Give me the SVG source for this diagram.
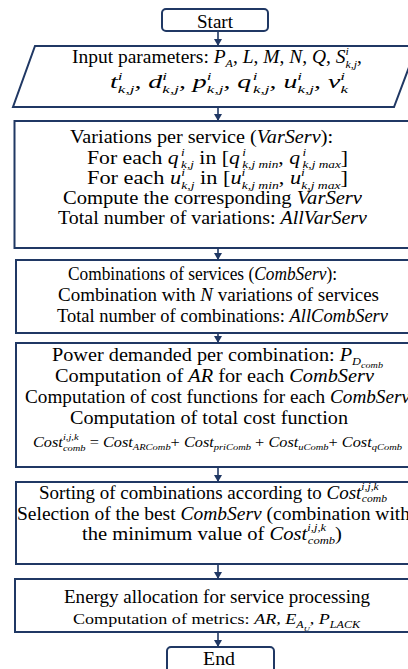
<svg xmlns="http://www.w3.org/2000/svg" width="408" height="669" viewBox="0 0 408 669">
  <defs>
    <marker id="arrow" markerUnits="userSpaceOnUse" markerWidth="8" markerHeight="8" refX="7" refY="4" orient="auto">
      <path d="M0,0 L7,4 L0,8 z" fill="#203864"/>
    </marker>
    <style>
      .box { fill: #ffffff; stroke: #203864; stroke-width: 2; }
      .t { font-family: 'Liberation Serif', 'Times New Roman', 'DejaVu Serif', serif; font-size: 18px; fill: #000000; }
      .m { font-style: italic; }
      .s { font-size: 11px; }
      .ss { font-size: 9px; }
      .c { font-size: 14px; }
      .k { font-size: 15px; }
      .ks { font-size: 10px; }
      .kss { font-size: 7px; }
      .link { stroke: #203864; stroke-width: 1.6; fill: none; marker-end: url(#arrow); }
    </style>
  </defs>
  <rect width="408" height="669" fill="#ffffff"/>

  <!-- connectors -->
  <g id="connectors">
    <line class="link" x1="218" y1="31" x2="218" y2="46"/>
    <line class="link" x1="218" y1="107" x2="218" y2="121"/>
    <line class="link" x1="218" y1="248" x2="218" y2="260"/>
    <line class="link" x1="218" y1="333" x2="218" y2="343"/>
    <line class="link" x1="218" y1="467" x2="218" y2="482"/>
    <line class="link" x1="218" y1="564" x2="218" y2="579"/>
    <line class="link" x1="218" y1="632" x2="218" y2="647"/>
  </g>

  <!-- start terminal -->
  <g id="start">
    <rect class="box" x="162" y="9" width="106" height="22" rx="4"/>
    <text class="t" x="197" y="28" textLength="36" lengthAdjust="spacingAndGlyphs">Start</text>
  </g>

  <!-- input parameters (data block) -->
  <g id="input">
    <polygon class="box" points="35,46 417,46 394,107 13,107"/>
    <text class="t" x="72" y="63" textLength="290" lengthAdjust="spacingAndGlyphs">Input parameters: <tspan class="m">P</tspan><tspan class="m s" dy="4">A</tspan><tspan dy="-4">, </tspan><tspan class="m">L</tspan>, <tspan class="m">M</tspan>, <tspan class="m">N</tspan>, <tspan class="m">Q</tspan>, <tspan class="m">S</tspan><tspan class="m s" dy="-8">i</tspan><tspan class="m s" dx="-3" dy="13">k,j</tspan><tspan dy="-5">,</tspan></text>
    <text class="t m" x="110" y="88" textLength="238" lengthAdjust="spacingAndGlyphs">t<tspan class="s" dy="-8">i</tspan><tspan class="s" dx="-3" dy="13">k,j</tspan><tspan dy="-5">, d</tspan><tspan class="s" dy="-8">i</tspan><tspan class="s" dx="-3" dy="13">k,j</tspan><tspan dy="-5">, p</tspan><tspan class="s" dy="-8">i</tspan><tspan class="s" dx="-3" dy="13">k,j</tspan><tspan dy="-5">, q</tspan><tspan class="s" dx="1" dy="-8">i</tspan><tspan class="s" dx="-3" dy="13">k,j</tspan><tspan dy="-5">, u</tspan><tspan class="s" dy="-8">i</tspan><tspan class="s" dx="-3" dy="13">k,j</tspan><tspan dy="-5">, v</tspan><tspan class="s" dy="-8">i</tspan><tspan class="s" dx="-3" dy="13">k</tspan></text>
  </g>

  <!-- variations per service -->
  <g id="varserv">
    <rect class="box" x="14.5" y="121" width="410" height="127"/>
    <text class="t" x="70" y="143" textLength="263" lengthAdjust="spacingAndGlyphs">Variations per service (<tspan class="m">VarServ</tspan>):</text>
    <text class="t" x="87" y="164" textLength="261" lengthAdjust="spacingAndGlyphs">For each <tspan class="m">q</tspan><tspan class="m s" dx="2" dy="-8">i</tspan><tspan class="m s" dx="-3" dy="12">k,j</tspan><tspan dy="-4"> in [</tspan><tspan class="m">q</tspan><tspan class="m s" dx="2" dy="-8">i</tspan><tspan class="m s" dx="-3" dy="12">k,j min</tspan><tspan dy="-4">, </tspan><tspan class="m">q</tspan><tspan class="m s" dx="2" dy="-8">i</tspan><tspan class="m s" dx="-3" dy="12">k,j max</tspan><tspan dy="-4">]</tspan></text>
    <text class="t" x="87" y="184" textLength="261" lengthAdjust="spacingAndGlyphs">For each <tspan class="m">u</tspan><tspan class="m s" dy="-8">i</tspan><tspan class="m s" dx="-3" dy="13">k,j</tspan><tspan dy="-5"> in [</tspan><tspan class="m">u</tspan><tspan class="m s" dy="-8">i</tspan><tspan class="m s" dx="-3" dy="13">k,j min</tspan><tspan dy="-5">, </tspan><tspan class="m">u</tspan><tspan class="m s" dy="-8">i</tspan><tspan class="m s" dx="-3" dy="13">k,j max</tspan><tspan dy="-5">]</tspan></text>
    <text class="t" x="63" y="204" textLength="299" lengthAdjust="spacingAndGlyphs">Compute the corresponding <tspan class="m">VarServ</tspan></text>
    <text class="t" x="58" y="224" textLength="309" lengthAdjust="spacingAndGlyphs">Total number of variations: <tspan class="m">AllVarServ</tspan></text>
  </g>

  <!-- combinations of services -->
  <g id="combserv">
    <rect class="box" x="16" y="260" width="410" height="73"/>
    <text class="t" x="68" y="280" textLength="269" lengthAdjust="spacingAndGlyphs">Combinations of services (<tspan class="m">CombServ</tspan>):</text>
    <text class="t" x="58" y="301" textLength="321" lengthAdjust="spacingAndGlyphs">Combination with <tspan class="m">N</tspan> variations of services</text>
    <text class="t" x="57" y="322" textLength="331" lengthAdjust="spacingAndGlyphs">Total number of combinations: <tspan class="m">AllCombServ</tspan></text>
  </g>

  <!-- cost evaluation -->
  <g id="cost">
    <rect class="box" x="16" y="343" width="410" height="124"/>
    <text class="t" x="52" y="361" textLength="331" lengthAdjust="spacingAndGlyphs">Power demanded per combination: <tspan class="m">P</tspan><tspan class="m s" dy="4">D</tspan><tspan class="m ss" dy="3">comb</tspan></text>
    <text class="t" x="55" y="382" textLength="319" lengthAdjust="spacingAndGlyphs">Computation of <tspan class="m">AR</tspan> for each <tspan class="m">CombServ</tspan></text>
    <text class="t" x="25" y="403" textLength="385" lengthAdjust="spacingAndGlyphs">Computation of cost functions for each <tspan class="m">CombServ</tspan></text>
    <text class="t" x="70" y="424" textLength="278" lengthAdjust="spacingAndGlyphs">Computation of total cost function</text>
    <text class="t c m" x="33" y="447" textLength="369" lengthAdjust="spacingAndGlyphs">Cost<tspan class="ss" dy="-7">i,j,k</tspan><tspan class="ss" dx="-13.5" dy="11">comb</tspan><tspan dy="-4" font-style="normal"> = </tspan>Cost<tspan class="ss" dy="3">ARComb</tspan><tspan dy="-3" font-style="normal">+ </tspan>Cost<tspan class="ss" dy="3">priComb</tspan><tspan dy="-3" font-style="normal"> + </tspan>Cost<tspan class="ss" dy="3">uComb</tspan><tspan dy="-3" font-style="normal">+ </tspan>Cost<tspan class="ss" dy="3">qComb</tspan></text>
  </g>

  <!-- selection of the best combination -->
  <g id="selection">
    <rect class="box" x="16" y="482" width="410" height="82"/>
    <text class="t" x="39" y="499" textLength="348" lengthAdjust="spacingAndGlyphs">Sorting of combinations according to <tspan class="m">Cost</tspan><tspan class="m s" dy="-9">i,j,k</tspan><tspan class="m s" dx="-16" dy="12">comb</tspan></text>
    <text class="t" x="17" y="520" textLength="393" lengthAdjust="spacingAndGlyphs">Selection of the best <tspan class="m">CombServ</tspan> (combination with</text>
    <text class="t" x="82" y="540" textLength="260" lengthAdjust="spacingAndGlyphs">the minimum value of <tspan class="m">Cost</tspan><tspan class="m s" dy="-9">i,j,k</tspan><tspan class="m s" dx="-16" dy="13">comb</tspan><tspan dy="-4">)</tspan></text>
  </g>

  <!-- energy allocation -->
  <g id="allocation">
    <rect class="box" x="15" y="579" width="410" height="53"/>
    <text class="t" x="64" y="603" textLength="306" lengthAdjust="spacingAndGlyphs">Energy allocation for service processing</text>
    <text class="t k" x="73" y="624" textLength="287" lengthAdjust="spacingAndGlyphs">Computation  of metrics: <tspan class="m">AR, E</tspan><tspan class="m ks" dy="4">A</tspan><tspan class="m kss" dy="3">U</tspan><tspan dy="-7">, </tspan><tspan class="m">P</tspan><tspan class="m ks" dy="4">LACK</tspan></text>
  </g>

  <!-- end terminal -->
  <g id="end">
    <rect class="box" x="167" y="647" width="107" height="26" rx="4"/>
    <text class="t" x="203" y="665" textLength="32" lengthAdjust="spacingAndGlyphs">End</text>
  </g>
</svg>
